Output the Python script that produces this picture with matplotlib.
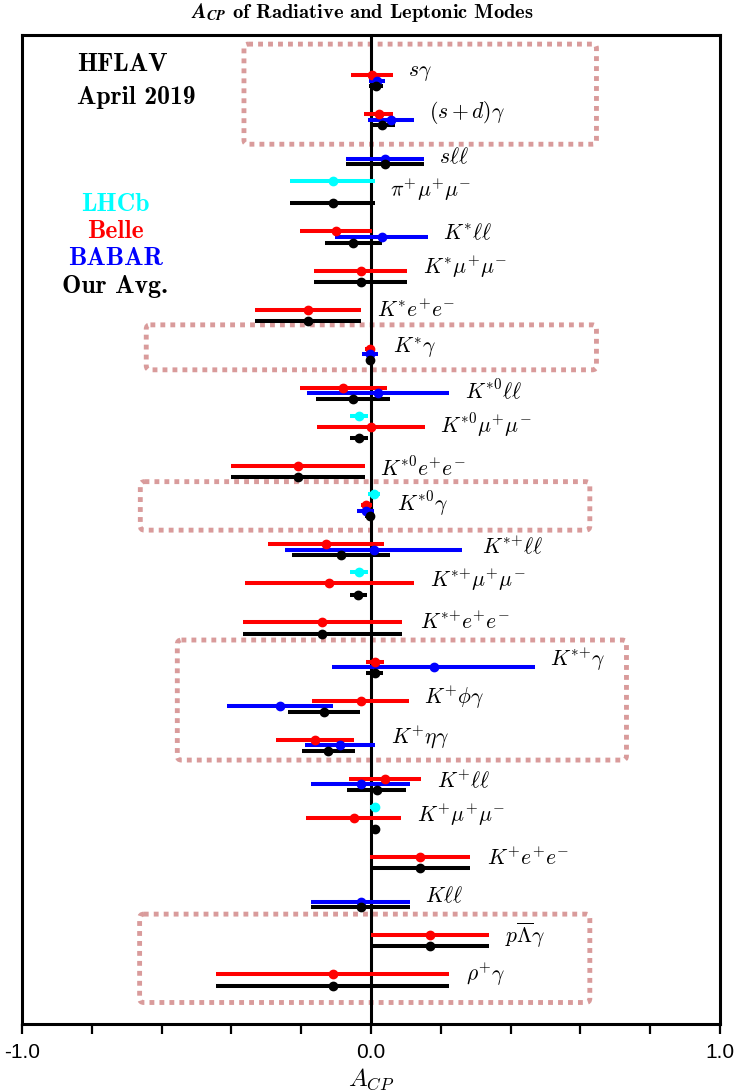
import numpy as np
import matplotlib
matplotlib.use("Agg")
from matplotlib import pyplot as plt
from matplotlib.patches import FancyBboxPatch

plt.rcParams['mathtext.fontset'] = 'cm'

nan = np.nan

# decay modes, top to bottom (signs in braces so mathtext does not pad them as operators)
modes = [r'$s\gamma$', r'$(s+d)\gamma$', r'$s\ell\ell$', r'$\pi^{+}\mu^{+}\mu^{-}$',
         r'$K^{*}\ell\ell$', r'$K^{*}\mu^{+}\mu^{-}$', r'$K^{*}e^{+}e^{-}$', r'$K^{*}\gamma$',
         r'$K^{*0}\ell\ell$', r'$K^{*0}\mu^{+}\mu^{-}$', r'$K^{*0}e^{+}e^{-}$', r'$K^{*0}\gamma$',
         r'$K^{*{+}}\ell\ell$', r'$K^{*{+}}\mu^{+}\mu^{-}$', r'$K^{*{+}}e^{+}e^{-}$', r'$K^{*{+}}\gamma$',
         r'$K^{+}\phi\gamma$', r'$K^{+}\eta\gamma$', r'$K^{+}\ell\ell$', r'$K^{+}\mu^{+}\mu^{-}$',
         r'$K^{+}e^{+}e^{-}$', r'$K\ell\ell$', r'$p\overline{\Lambda}\gamma$', r'$\rho^{+}\gamma$']

# A_CP values and errors per experiment (nan = no measurement)
lhcb_val = [nan, nan, nan, -0.110, nan, nan, nan, nan, nan, -0.035, nan, 0.008,
            nan, -0.035, nan, nan, nan, nan, nan, 0.011, nan, nan, nan, nan]
lhcb_err = [nan, nan, nan, 0.121, nan, nan, nan, nan, nan, 0.025, nan, 0.017,
            nan, 0.025, nan, nan, nan, nan, nan, 0.013, nan, nan, nan, nan]

belle_val = [0.003, 0.022, nan, nan, -0.101, -0.030, -0.180, -0.004, -0.079, 0.000, -0.209, -0.013,
             -0.129, -0.119, -0.140, 0.011, -0.030, -0.160, 0.040, -0.050, 0.140, nan, 0.169, -0.110]
belle_err = [0.059, 0.042, nan, nan, 0.103, 0.134, 0.152, 0.013, 0.125, 0.155, 0.193, 0.017,
             0.167, 0.243, 0.228, 0.026, 0.139, 0.111, 0.104, 0.136, 0.144, nan, 0.169, 0.333]

babar_val = [0.017, 0.058, 0.040, nan, 0.031, nan, nan, -0.003, 0.020, nan, nan, -0.015,
             0.008, nan, nan, 0.180, -0.260, -0.089, -0.030, nan, nan, -0.030, nan, nan]
babar_err = [0.023, 0.066, 0.113, nan, 0.133, nan, nan, 0.022, 0.203, nan, nan, 0.025,
             0.253, nan, nan, 0.291, 0.152, 0.101, 0.143, nan, nan, 0.142, nan, nan]

avg_val = [0.015, 0.032, 0.040, -0.110, -0.051, -0.030, -0.180, -0.003, -0.052, -0.035, -0.209, -0.004,
           -0.086, -0.036, -0.140, 0.011, -0.134, -0.122, 0.016, 0.011, 0.140, -0.030, 0.169, -0.110]
avg_err = [0.020, 0.036, 0.113, 0.121, 0.082, 0.134, 0.152, 0.008, 0.106, 0.025, 0.193, 0.012,
           0.140, 0.025, 0.228, 0.024, 0.103, 0.075, 0.084, 0.012, 0.144, 0.142, 0.169, 0.333]

# where the mode names sit (x in A_CP units)
label_x = [0.105, 0.165, 0.196, 0.055, 0.205, 0.149, 0.017, 0.062, 0.268, 0.199, 0.027, 0.075,
           0.319, 0.169, 0.140, 0.514, 0.153, 0.058, 0.189, 0.132, 0.333, 0.156, 0.384, 0.272]
label_dy = [-0.05, -0.03, 0.1, -0.06, 0.04, -0.09, 0.0, -0.04, 0.06, -0.05, 0.05, -0.05,
            0.04, -0.08, 0.0, -0.06, -0.07, -0.07, 0.03, -0.07, 0.03, 0.0, 0.0, 0.0]

# dotted boxes around the radiative modes: x0, x1, ytop, ybottom
boxes = [(-0.364, 0.646, -0.79, 1.77),
         (-0.644, 0.646, 6.39, 7.54),
         (-0.661, 0.627, 10.40, 11.64),
         (-0.555, 0.732, 14.45, 17.52),
         (-0.663, 0.627, 21.46, 23.72)]

fig = plt.figure(figsize=(7.35, 10.92), dpi=100)
ax = fig.add_axes([22/735, 1 - 1024/1092, 698/735, 989/1092])
ax.set_xlim(-1, 1)
ax.set_ylim(24.27, -1.023)

d = 0.143  # spacing between experiments inside a mode
y = np.arange(len(modes))
series = [(lhcb_val, lhcb_err, 'cyan', -2 * d),
          (belle_val, belle_err, 'red', 0.0),
          (babar_val, babar_err, 'blue', d),
          (avg_val, avg_err, 'black', 2 * d)]
for val, err, col, off in series:
    ax.errorbar(val, y + off, xerr=err, fmt='o', color=col, ms=6,
                elinewidth=2.9, capsize=0, zorder=4)

ax.axvline(0, color='black', lw=2.2, zorder=3)

for i, lab in enumerate(modes):
    ax.text(label_x[i], y[i] + label_dy[i], lab, fontsize=15.5, ha='left', va='center')

for x0, x1, yt, yb in boxes:
    p = FancyBboxPatch((x0, yt), x1 - x0, yb - yt,
                       boxstyle='round,pad=0,rounding_size=0.012',
                       mutation_aspect=349/39.1, fill=False,
                       ec='#d99b9b', lw=3.5, ls=(0, (1, 1.05)), zorder=2)
    ax.add_patch(p)

# legend / stamp
fs_leg = 18.5
ax.text(-0.842, -0.256, 'HFLAV', family='cmb10', fontsize=fs_leg, ha='left', va='center')
ax.text(-0.842, 0.563, 'April 2019', family='cmb10', fontsize=fs_leg, ha='left', va='center')
ax.text(-0.733, 3.30, 'LHCb', family='cmb10', fontsize=fs_leg, color='cyan', ha='center', va='center')
ax.text(-0.733, 3.99, 'Belle', family='cmb10', fontsize=fs_leg, color='red', ha='center', va='center')
ax.text(-0.733, 4.69, 'BABAR', family='cmb10', fontsize=fs_leg, color='blue', ha='center', va='center')
ax.text(-0.733, 5.42, 'Our Avg.', family='cmb10', fontsize=fs_leg, color='black', ha='center', va='center')

for s in ax.spines.values():
    s.set_linewidth(2.2)
ax.set_yticks([])
ticks = np.round(np.arange(-1.0, 1.01, 0.2), 1)
ax.set_xticks(ticks)
ax.set_xticklabels(['-1.0' if t == -1 else '0.0' if t == 0 else '1.0' if t == 1 else '' for t in ticks],
                   family='Liberation Sans', fontsize=15)
ax.tick_params(axis='x', direction='out', length=7.5, width=1.6, pad=6)

title = fig.text(362/735, 1 - 12/1092, r'$\mathbfit{A}_{\mathbfit{CP}}$ of Radiative and Leptonic Modes',
                 family='cmb10', math_fontfamily='stix', fontsize=14.8, ha='center', va='center')
try:
    fig.canvas.draw()
except Exception:
    title.set_text(r'$A_{CP}$ of Radiative and Leptonic Modes')
    title.set_math_fontfamily('cm')
fig.text(371/735, 1 - 1079/1092, r'$A_{CP}$', fontsize=18, ha='center', va='center')

fig.savefig('out.png', dpi=100)
